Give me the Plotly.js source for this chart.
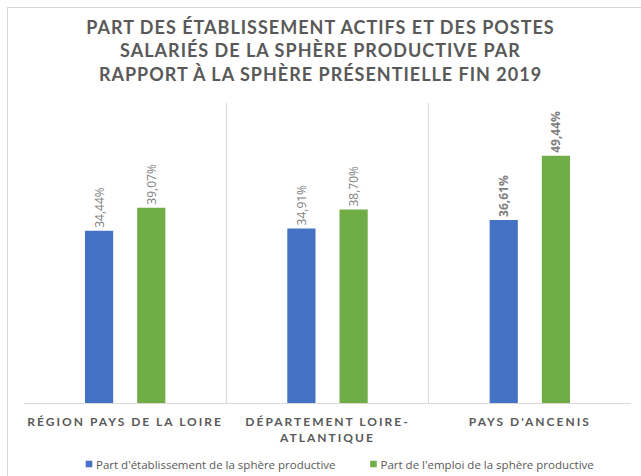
<!DOCTYPE html>
<html><head><meta charset="utf-8">
<script src="https://cdn.plot.ly/plotly-3.0.1.min.js"></script>
<style>
html,body{margin:0;padding:0;background:#fff;}
#wrap{position:relative;width:641px;height:476px;overflow:hidden;}
#frame{position:absolute;left:7px;top:7px;width:700px;height:600px;border:1px solid #d9d9d9;}
#chart{position:absolute;left:0;top:0;width:641px;height:476px;}
</style></head>
<body><div id="wrap"><div id="frame"></div><div id="chart"></div></div>
<script>
const categories = ["RÉGION PAYS DE LA LOIRE", "DÉPARTEMENT LOIRE-<br>ATLANTIQUE", "PAYS D'ANCENIS"];
const etabValues = [34.44, 34.91, 36.61];
const emploiValues = [39.07, 38.70, 49.44];
const seriesNames = ["Part d'établissement de la sphère productive", "Part de l'emploi de la sphère productive"];
const boldCategory = [false, false, true];

function fmt(v, i){ const s = v.toFixed(2).replace('.', ',') + '%'; return boldCategory[i] ? '<b>' + s + '</b>' : s; }

const labelFont = {family: '"Open Sans", Lato, sans-serif', size: 12, color: '#7f7f7f'};
const traces = [
  {type:'bar', name: seriesNames[0], x: categories, y: etabValues, marker:{color:'#4472C4'},
   text: etabValues.map(fmt), textposition:'outside', textangle:-90, constraintext:'none', textfont: labelFont, cliponaxis:false, hoverinfo:'skip'},
  {type:'bar', name: seriesNames[1], x: categories, y: emploiValues, marker:{color:'#70AD47'},
   text: emploiValues.map(fmt), textposition:'outside', textangle:-90, constraintext:'none', textfont: labelFont, cliponaxis:false, hoverinfo:'skip'}
];
const layout = {
  width:641, height:476,
  paper_bgcolor:'rgba(0,0,0,0)', plot_bgcolor:'rgba(0,0,0,0)',
  margin:{l:24, r:10, t:103, b:73, autoexpand:false},
  barmode:'group', bargap:0.484, bargroupgap:0.46,
  title:{text:'PART DES ÉTABLISSEMENT ACTIFS ET DES POSTES<br>SALARIÉS DE LA SPHÈRE PRODUCTIVE PAR<br>RAPPORT À LA SPHÈRE PRÉSENTIELLE FIN 2019',
    font:{family:'Lato, "Open Sans", sans-serif', size:18, color:'#595959', weight:700}, x:0.5, xanchor:'center', y:0.929, yanchor:'top', yref:'container'},
  xaxis:{type:'category', tickson:'boundaries', showgrid:true, gridcolor:'#d9d9d9', gridwidth:1, ticks:'',
    showline:true, linecolor:'#d9d9d9', linewidth:1, automargin:false, ticklabelstandoff:8,
    tickfont:{family:'Lato, "Open Sans", sans-serif', size:12, color:'#595959', weight:700}, fixedrange:true},
  yaxis:{range:[0,60], showgrid:false, zeroline:false, showticklabels:false, showline:false, fixedrange:true, automargin:false},
  showlegend:true,
  legend:{orientation:'h', x:0.5, xanchor:'center', y:-0.155, yanchor:'top',
    font:{family:'"Open Sans", Lato, sans-serif', size:11.5, color:'#595959'}, itemwidth:30, tracegroupgap:0}
};
Plotly.newPlot('chart', traces, layout, {displayModeBar:false, staticPlot:true}).then(() => {
  document.querySelectorAll('#chart .gtitle').forEach(t => t.style.letterSpacing = '1px');
  document.querySelectorAll('#chart .xtick text').forEach(t => t.style.letterSpacing = '2px');
  document.querySelectorAll('#chart .legendpoints path').forEach(p => { p.setAttribute('transform', 'translate(33,0) scale(0.55)'); });
});
</script></body></html>
